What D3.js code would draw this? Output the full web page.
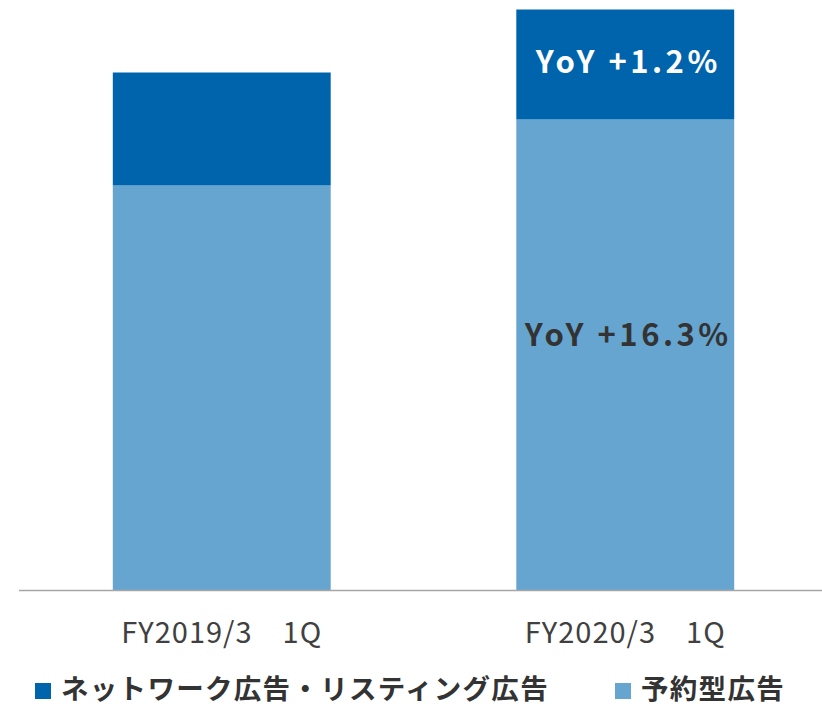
<!DOCTYPE html>
<html lang="ja">
<head>
<meta charset="utf-8">
<title>広告売上</title>
<script src="https://cdn.jsdelivr.net/npm/d3@7"></script>
<style>
body { margin: 0; background: #fff; }
svg text { font-family: "Noto Sans CJK JP", "Noto Sans", sans-serif; }
.cat { font-size: 29px; fill: #404040; letter-spacing: 1px; }
.legend { font-size: 27.5px; font-weight: 700; fill: #333; letter-spacing: 1.3px; }
.yoy { font-size: 31px; font-weight: 700; letter-spacing: 3.5px; }
</style>
</head>
<body>
<svg width="822" height="707"></svg>
<script>
// data (arbitrary units)
var categories = ["FY2019/3\u30001Q", "FY2020/3\u30001Q"];
var yoyakugata = [405, 471];   // 予約型広告
var network = [113, 110];      // ネットワーク広告・リスティング広告
var seriesNames = ["ネットワーク広告・リスティング広告", "予約型広告"];
var colors = ["#0064ad", "#66a5cf"];

var svg = d3.select("svg");

var x = d3.scaleBand().domain(categories).range([20, 827])
    .paddingInner(0.46).paddingOuter(0.23);
var y = d3.scaleLinear().domain([0, 600]).range([590.5, -9.5]);

var rows = categories.map(function(c, i) {
  return { cat: c, yoyakugata: yoyakugata[i], network: network[i] };
});
var stack = d3.stack().keys(["yoyakugata", "network"])(rows);

svg.selectAll("g.layer")
    .data(stack)
  .enter().append("g")
    .attr("class", "layer")
    .attr("fill", function(d) { return d.key == "network" ? colors[0] : colors[1]; })
  .selectAll("rect")
    .data(function(d) { return d; })
  .enter().append("rect")
    .attr("x", function(d) { return x(d.data.cat); })
    .attr("width", x.bandwidth())
    .attr("y", function(d) { return y(d[1]); })
    .attr("height", function(d) { return y(d[0]) - y(d[1]); });

// baseline
svg.append("line")
    .attr("x1", 19).attr("x2", 822)
    .attr("y1", y(0)).attr("y2", y(0))
    .attr("stroke", "#a6a6a6").attr("stroke-width", 1.5);

// category labels
svg.selectAll("text.cat")
    .data(categories)
  .enter().append("text")
    .attr("class", "cat")
    .attr("x", function(d) { return x(d) + x.bandwidth() / 2; })
    .attr("y", 643)
    .attr("text-anchor", "middle")
    .text(function(d) { return d; });

// YoY annotations on the second bar
var cx = x(categories[1]) + x.bandwidth() / 2;
svg.append("text").attr("class", "yoy")
    .attr("x", cx + 3).attr("y", 73)
    .attr("text-anchor", "middle").attr("fill", "#fff")
    .text("YoY +1.2%");
svg.append("text").attr("class", "yoy")
    .attr("x", cx + 3).attr("y", 346)
    .attr("text-anchor", "middle").attr("fill", "#333")
    .text("YoY +16.3%");

// legend
var legendX = [35, 615];
var lg = svg.selectAll("g.leg")
    .data(seriesNames)
  .enter().append("g")
    .attr("class", "leg")
    .attr("transform", function(d, i) { return "translate(" + legendX[i] + ",683)"; });
lg.append("rect")
    .attr("width", 16).attr("height", 16)
    .attr("fill", function(d, i) { return colors[i]; });
lg.append("text")
    .attr("class", "legend")
    .attr("x", 26).attr("y", 16)
    .text(function(d) { return d; });
</script>
</body>
</html>
